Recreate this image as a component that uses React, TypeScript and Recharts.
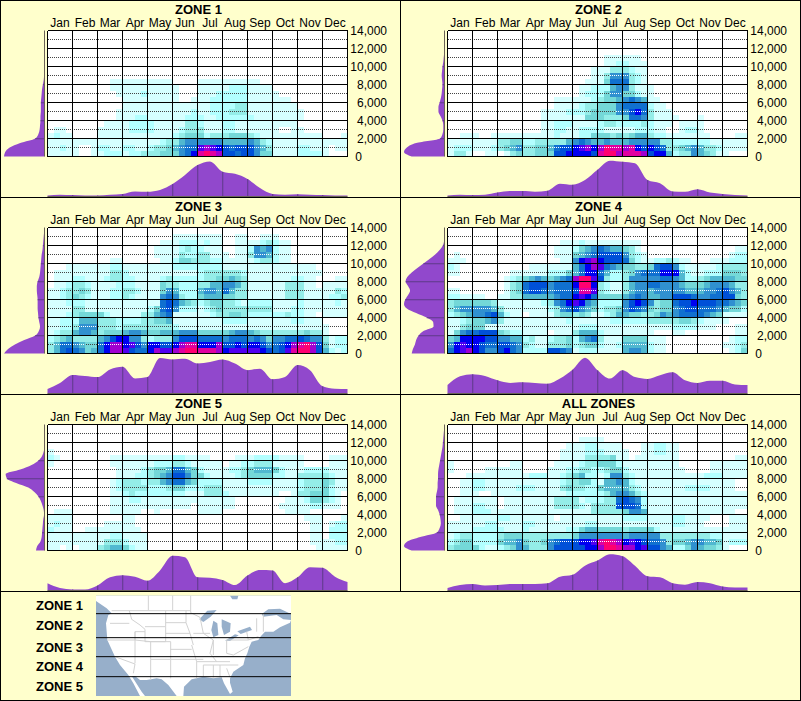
import { ScatterChart, Scatter, ComposedChart, Area, Bar, XAxis, YAxis, ReferenceLine } from "recharts";

const MONTHS = ["Jan", "Feb", "Mar", "Apr", "May", "Jun", "Jul", "Aug", "Sep", "Oct", "Nov", "Dec"];
const ALTITUDE_TICKS = [0, 2000, 4000, 6000, 8000, 10000, 12000, 14000];
const DOTTED_TICKS = [1000, 3000, 5000, 7000, 9000, 11000, 13000];
const MONTH_LINES = [0, 1, 2, 3, 4, 5, 6, 7, 8, 9, 10, 11, 12];
const MONTH_CENTRES = [0.5, 1.5, 2.5, 3.5, 4.5, 5.5, 6.5, 7.5, 8.5, 9.5, 10.5, 11.5];

// hex digit = heat level, rows run top (14,000) to bottom (0), 4 cells per month
const LEVEL_COLORS = ["#FFFFFF", "#D6FFFF", "#B2FFFF", "#94EDE8", "#74D8D8", "#50B8D0", "#3090D0", "#1070D0", "#0050D8", "#0000F0", "#5000F0", "#A000D0", "#E000A0", "#FF0070"];

const EMPTY = "0000 0000 0000 0000 0000 0000 0000 0000 0000 0000 0000 0000";

const ZONE_1_GRID = [
  EMPTY, EMPTY, EMPTY, EMPTY, EMPTY, EMPTY, EMPTY, EMPTY,
  "0000 0000 0011 1111 1111 0000 1111 1111 1100 0000 0000 0000",
  "0000 0000 0011 1111 1111 1000 1111 1222 1111 0000 0000 0000",
  "0000 0000 0001 1112 1111 1000 1112 2222 1111 1000 0000 0000",
  "0000 0000 0000 1111 1111 1001 1122 2222 1111 1110 0000 0000",
  "0000 0000 0000 1111 1111 1111 1122 2233 1111 1111 0000 0000",
  "0000 0000 0001 1111 1111 1112 1122 2333 1111 1111 1000 0000",
  "0000 0000 0001 1122 1111 1122 2112 2222 2111 1111 1000 0000",
  "0000 0000 0111 1222 2111 1133 2111 2211 1111 1111 0000 0000",
  "0110 0000 1111 1222 2111 1233 3111 2211 1111 1001 1000 0000",
  "1211 0000 1111 1111 1111 2344 4233 3444 3211 1111 1111 0001",
  "1111 1111 1111 1111 1123 3566 6666 5555 6532 1111 1111 1111",
  "1121 1001 2211 2211 2334 5677 aba9 8788 8653 1111 2211 1011",
  "1111 1001 1222 1223 3344 4679 cdcb 8878 8644 1111 2222 1000",
];

const ZONE_2_GRID = [
  EMPTY, EMPTY, EMPTY, EMPTY,
  "0000 0000 0000 0000 0000 0000 0111 1110 0000 0000 0000 0000",
  "0000 0000 0000 0000 0000 0000 0112 2111 0000 0000 0000 0000",
  "0000 0000 0000 0000 0000 0001 1133 3211 0000 0000 0000 0000",
  "0000 0000 0000 0000 0000 0001 1366 6321 0000 0000 0000 0000",
  "0000 0000 0000 0000 0000 0011 1477 7321 0000 0000 0000 0000",
  "0000 0000 0000 0000 0000 0112 2256 6311 1000 0000 0000 0000",
  "0000 0000 0000 0000 0000 0122 2466 4421 1000 0000 0000 0000",
  "0000 0000 0000 0000 0111 1112 3445 6765 1100 0000 0000 0000",
  "0000 0000 0000 0000 0111 1233 4446 7777 2110 0000 0000 0000",
  "0000 0000 0000 0001 1112 2234 4446 6897 3111 0000 0000 0000",
  "0000 0000 0000 0001 1111 1144 4333 4776 3111 1000 1000 0000",
  "0000 0000 0000 0001 1222 1111 2332 2223 2111 0111 1000 0000",
  "0000 0000 0000 0001 1221 1222 2111 1122 2110 0122 1000 0000",
  "0011 1001 1111 1111 1211 1224 4434 3455 3221 1111 1100 0011",
  "1111 1111 3344 2233 3335 6765 5655 5666 6633 2222 2211 1111",
  "1222 1112 3456 3344 5788 9ab9 bdcc bc98 9873 3456 5332 1111",
  "1331 0011 0134 3344 4889 9998 cddb cccb 8995 2336 5431 1000",
];

const ZONE_3_GRID = [
  EMPTY,
  "0000 0000 0000 0000 0000 1111 1111 0011 0011 1000 0000 0000",
  "0000 0000 0000 0000 0011 1222 1211 0011 1123 2110 0000 0000",
  "0000 0000 0000 0000 0111 1232 2111 0011 2656 2110 0000 0000",
  "0000 0000 0000 0000 0111 1322 3311 1011 3665 2110 0000 0000",
  "0000 0000 0011 0000 0011 2443 3322 1111 1233 2110 0000 0000",
  "0001 1111 1122 1111 1111 2222 2222 1111 1111 1111 1110 0000",
  "0111 1111 1133 2111 1111 1111 2333 3332 1111 1111 1111 0000",
  "0111 2211 1233 2211 1123 2222 2334 4543 1111 1112 2110 0011",
  "0112 3321 1112 2211 1143 3222 3355 6653 1111 1133 3110 1111",
  "1123 3431 1122 3321 1146 5222 5665 7533 1111 1133 3111 1132",
  "1123 4321 1122 3211 1167 6322 4555 4433 1111 1133 3111 1223",
  "1112 2211 1111 1111 1178 7543 2344 3321 2222 1111 2111 1121",
  "1111 3311 1111 1111 2478 6222 1234 3333 3333 1112 2111 1111",
  "1112 3444 4211 1113 3567 1111 1123 3443 2222 2232 2110 1111",
  "1122 2555 3332 2223 3445 1111 1111 2222 1111 1112 2111 0000",
  "1122 3666 3332 3333 3333 2111 1111 1111 1111 1111 1111 1000",
  "1233 5665 3444 5665 4455 5666 4444 4566 5433 3333 3433 1000",
  "2345 3333 5689 9663 2333 6888 7777 6777 6764 6677 8766 3122",
  "3577 6544 79bb 9a86 9988 9bcc 999b 8898 9986 789b cdb8 4122",
  "3578 7645 79bb a877 9baa bcdd cccb 9aaa aa98 78ac ddb8 5212",
];

const ZONE_4_GRID = [
  EMPTY, EMPTY,
  "0000 0000 0000 0000 0011 1211 1111 1110 0000 0000 0000 0000",
  "0000 0000 0000 0000 0111 2456 7655 4310 0000 0000 0000 0011",
  "0100 0000 0000 0000 0111 4567 8888 6321 0000 0000 0000 0122",
  "1110 0000 0000 0000 0011 69ab 9888 7421 1223 2110 0011 1222",
  "2100 0000 0000 0111 1111 579b a765 4433 4788 6211 1112 3333",
  "1100 0000 0011 1111 2224 5799 7522 3467 7799 9521 1222 4443",
  "0000 0000 0123 4565 4567 bdda 8322 3666 6677 6522 3455 5544",
  "0000 0000 0134 7888 6777 9dd9 3211 3566 7766 6544 4566 6533",
  "1100 0000 0134 7887 6777 8cca 3211 3566 5666 6655 5667 8653",
  "2211 1100 1133 5555 5677 9a97 4444 5676 5566 8887 6677 8843",
  "3444 4443 1111 1112 3679 a965 2222 6898 6344 7889 8887 7654",
  "3566 6665 3111 1111 2367 8654 2334 6876 4344 6788 7776 5442",
  "2345 6678 5211 0111 1344 3431 1235 5443 3465 6777 7654 1111",
  "1123 4456 3111 1111 1112 1111 1122 2222 3333 3443 2111 1000",
  "1134 4411 1111 1111 1111 1222 1111 1111 1111 2222 1110 0011",
  "1467 7888 4322 1111 0111 3555 2111 1111 1000 1100 0000 0011",
  "4599 9988 6655 2311 2334 2567 3111 4444 1110 0000 0000 0122",
  "69a9 9877 8876 3211 3334 2344 2112 5555 2110 0000 0000 1123",
  "79ab 9866 8976 2222 8876 1222 1111 5665 2110 0000 0000 0124",
];

const ZONE_5_GRID = [
  EMPTY, EMPTY, EMPTY, EMPTY,
  "1000 0000 0000 0000 0000 0000 0000 0000 0000 0000 0000 0000",
  "2100 0000 0011 1111 1111 2211 1100 0011 1222 2111 1000 0111",
  "1000 0000 0011 1111 1222 3321 1111 0112 2333 1111 1000 0111",
  "0000 0000 0001 1112 3445 7754 2111 1223 4555 4211 1222 2111",
  "0000 0000 0001 1122 3456 8864 4211 1123 4444 2211 3333 3211",
  "0000 0000 0012 3332 3356 7754 2222 1111 2222 1111 2333 4311",
  "0000 0000 0012 3333 2223 4422 2333 1111 1111 1111 2333 4211",
  "0000 0000 0011 2322 2222 2211 1333 2111 1111 1001 3344 4210",
  "0000 0000 0011 1221 1111 1111 1111 1100 0000 0011 1244 3210",
  "0000 0000 0011 1111 1111 1110 1111 1100 0000 0111 1122 1110",
  "0111 0000 0011 1110 0100 0000 1111 0000 0000 0011 1100 0000",
  "1111 0000 0000 1100 0000 0000 0000 0000 0000 0000 0111 0001",
  "1211 0000 0111 1100 0000 0000 0000 0000 0000 0000 0011 0122",
  "2111 0011 1111 1110 0000 0000 0000 0000 0000 0000 0011 0222",
  "1111 1111 1122 1111 0000 0000 0000 0000 0000 0000 0011 0222",
  "1111 1111 1333 2111 0000 0000 0000 0000 0000 0000 0011 1122",
  "1101 0111 3455 4211 0000 0000 0000 0000 0000 0000 0001 1111",
];

const ALL_ZONES_GRID = [
  EMPTY, EMPTY,
  "0000 0000 0000 0000 0000 0111 1000 0000 0000 0000 0000 0000",
  "0000 0000 0000 0000 0001 1122 1111 0001 1221 1000 0000 0000",
  "0000 0000 0000 0000 0011 1122 2111 1001 1221 1000 0000 0000",
  "0000 0000 0000 0000 0011 1133 3341 1011 1111 1000 0000 0011",
  "1000 0000 0011 0000 0111 1233 4442 1111 1111 1000 0011 1111",
  "1000 0011 1111 0000 1112 2332 2344 2111 1111 1100 0011 1111",
  "0001 1111 1111 1222 1123 4522 1266 3211 1111 1111 1222 1111",
  "0011 2211 1111 1111 1123 3442 1556 5211 1111 1111 1111 1100",
  "0011 2211 1112 2211 1134 3322 4555 5321 1111 1122 2211 1100",
  "0011 1001 1111 1111 1112 2222 2356 6532 1111 1111 1111 1111",
  "0111 1111 0111 1111 1333 3122 2337 8762 1111 1111 1111 1111",
  "0111 2211 0111 1111 1333 3213 3338 8872 1111 1111 1111 1111",
  "0111 2221 1111 1111 1111 1113 3333 4665 1111 1111 1111 1100",
  "0011 1111 2211 1111 1011 1111 1111 2222 1111 2211 1100 0111",
  "1111 1122 1111 2211 1111 1122 1111 1111 1111 2211 1000 0111",
  "1111 2222 2111 2111 1112 2455 4444 3444 4211 1111 1111 1111",
  "1233 2222 3444 3333 3333 4666 6666 5666 6633 3333 3322 1111",
  "2344 2222 4556 4334 6788 899a cdcb 9a98 7763 4456 6554 1222",
  "3444 4211 2346 5333 6888 8899 bddc bb9a 8865 2246 5443 1000",
];

// relative density by half month, Jan 1 to Dec 31
const ZONE_1_MONTHLY = [3, 5, 4, 3, 3, 5, 7, 14, 13, 18, 34, 59, 86, 96, 68, 62, 48, 23, 7, 5, 6, 5, 4, 3, 3];
const ZONE_2_MONTHLY = [3, 5, 4, 5, 11, 15, 15, 13, 16, 35, 32, 45, 73, 98, 95, 91, 45, 36, 14, 13, 20, 11, 7, 4, 3];
const ZONE_3_MONTHLY = [12, 29, 51, 48, 45, 66, 73, 41, 45, 97, 93, 95, 82, 86, 93, 82, 64, 68, 39, 45, 78, 64, 20, 13, 12];
const ZONE_4_MONTHLY = [23, 47, 53, 48, 36, 29, 31, 29, 27, 41, 65, 98, 64, 41, 64, 45, 40, 50, 58, 36, 29, 35, 35, 25, 23];
const ZONE_5_MONTHLY = [20, 7, 3, 3, 14, 36, 42, 38, 27, 55, 95, 91, 36, 35, 29, 15, 41, 56, 55, 20, 36, 64, 62, 38, 23];
const ALL_ZONES_MONTHLY = [7, 15, 18, 14, 15, 18, 18, 18, 20, 38, 43, 68, 82, 99, 94, 68, 39, 36, 20, 16, 23, 20, 11, 8, 8];

// relative density every 500 ft, 0 to 14,000
const ZONE_1_ALTITUDE = [100, 97, 86, 60, 23, 15, 12, 11, 10, 10, 9, 9, 9, 8, 7, 6, 4, 2, 1, 0, 0, 0, 0, 0, 0, 0, 0, 0, 0];
const ZONE_2_ALTITUDE = [81, 100, 93, 70, 11, 5, 3, 3, 5, 10, 15, 15, 12, 9, 7, 6, 5, 6, 7, 6, 5, 3, 2, 1, 1, 0, 0, 0, 0];
const ZONE_3_ALTITUDE = [100, 90, 73, 50, 23, 14, 11, 13, 15, 16, 17, 17, 17, 18, 19, 19, 17, 13, 11, 10, 9, 8, 7, 5, 4, 3, 2, 1, 0];
const ZONE_4_ALTITUDE = [81, 78, 73, 70, 64, 52, 27, 28, 44, 70, 93, 100, 97, 90, 85, 90, 96, 92, 81, 67, 52, 37, 23, 12, 4, 1, 0, 0, 0];
const ZONE_5_ALTITUDE = [21, 18, 10, 7, 6, 5, 4, 3, 1, 2, 5, 9, 15, 25, 40, 70, 93, 96, 60, 32, 15, 6, 2, 0, 0, 0, 0, 0, 0];
const ALL_ZONES_ALTITUDE = [81, 100, 92, 60, 19, 12, 9, 10, 12, 16, 21, 21, 21, 19, 17, 17, 16, 16, 15, 13, 11, 9, 7, 5, 4, 3, 2, 1, 0];

const ZONE_TITLES = ["ZONE 1", "ZONE 2", "ZONE 3", "ZONE 4", "ZONE 5", "ALL ZONES"];
const ZONE_GRIDS = [ZONE_1_GRID, ZONE_2_GRID, ZONE_3_GRID, ZONE_4_GRID, ZONE_5_GRID, ALL_ZONES_GRID];
const ZONE_MONTHLY = [ZONE_1_MONTHLY, ZONE_2_MONTHLY, ZONE_3_MONTHLY, ZONE_4_MONTHLY, ZONE_5_MONTHLY, ALL_ZONES_MONTHLY];
const ZONE_ALTITUDE = [ZONE_1_ALTITUDE, ZONE_2_ALTITUDE, ZONE_3_ALTITUDE, ZONE_4_ALTITUDE, ZONE_5_ALTITUDE, ALL_ZONES_ALTITUDE];

const MAP_ZONES = ["ZONE 1", "ZONE 2", "ZONE 3", "ZONE 4", "ZONE 5"];
const MAP_ZONE_BASELINES = [60, 120, 185, 243, 303];
const MAP_ZONE_LINES = [71, 143, 200, 260];

const BG = "#FFFFCC";
const PURPLE = "#9148CC";
const PURPLE_DARK = "#5E3A88";
const BASE_LINE = "#6B6258";
const FONT = "'Liberation Sans', Arial, sans-serif";

const CELL_W = 6.25;
const CELL_H = 6;
const PLOT_MARGIN = { top: 30.5, right: 52.5, bottom: 40.5, left: 47.5 };
const LAYER: React.CSSProperties = { position: "absolute", left: 0, top: 0 };

function gridCells(rows: string[]) {
  const out: { x: number; y: number; level: number; row: number }[] = [];
  rows.forEach((line, r) => {
    line.replace(/ /g, "").split("").forEach((ch, c) => {
      const level = parseInt(ch, 16);
      if (level > 0) out.push({ x: (c + 0.5) / 4, y: 14000 - ((r + 0.5) * 14000) / 21, level, row: r });
    });
  });
  return out;
}

function HeatCell({ cx, cy, payload }: any) {
  return (
    <rect x={cx - CELL_W / 2} y={cy - CELL_H / 2} width={CELL_W} height={CELL_H} fill={LEVEL_COLORS[payload.level]} shapeRendering="crispEdges" />
  );
}

// dark cells take the dotted line in white
function DottedCell({ cx, cy, payload }: any) {
  return (
    <g shapeRendering="crispEdges">
      <rect x={cx - CELL_W / 2} y={cy - CELL_H / 2} width={CELL_W} height={CELL_H} fill={LEVEL_COLORS[payload.level]} />
      <line x1={cx - CELL_W / 2} x2={cx + CELL_W / 2} y1={cy} y2={cy} stroke="#FFFFFF" strokeDasharray="1 1" />
    </g>
  );
}

function MonthTick({ x, payload }: any) {
  return (
    <text x={x} y={27} textAnchor="middle" fontFamily={FONT} fontSize={12} fill="#000">
      {MONTHS[Math.floor(payload.value)]}
    </text>
  );
}

function AltitudeTick({ y, payload }: any) {
  return (
    <text x={payload.value === 0 ? 362 : 387} y={y + 4.5} textAnchor="end" fontFamily={FONT} fontSize={12} fill="#000">
      {payload.value.toLocaleString("en-US")}
    </text>
  );
}

function Panel({ index }: { index: number }) {
  const cells = gridCells(ZONE_GRIDS[index]);
  const darkDotted = cells.filter((d) => d.row % 3 === 1 && d.level >= 5);
  const monthly = ZONE_MONTHLY[index].map((v, i) => ({
    x: i / 2,
    v,
    mark: i % 2 === 0 && i > 0 && i < 24 ? v : null,
  }));
  const altitude = ZONE_ALTITUDE[index].map((v, i) => ({
    y: i * 500,
    v,
    mark: i % 4 === 0 && i > 0 && i < 28 ? v : null,
  }));
  const left = (index % 2) * 400;
  const top = Math.floor(index / 2) * 197;

  return (
    <div style={{ position: "absolute", left, top, width: 400, height: 197 }}>
      <div style={{ position: "absolute", left: 4, top: 30 }}>
        <ComposedChart layout="vertical" width={41} height={127} data={altitude} margin={{ top: 0.5, right: 0.5, bottom: 0.5, left: 0 }}>
          <XAxis type="number" domain={[0, 100]} reversed hide />
          <YAxis type="number" dataKey="y" domain={[0, 14000]} reversed hide />
          <Area dataKey="v" type="monotone" fill={PURPLE} fillOpacity={1} stroke="none" isAnimationActive={false} />
          <Bar dataKey="mark" barSize={1} fill={PURPLE_DARK} isAnimationActive={false} />
          <ReferenceLine x={0} stroke={BASE_LINE} />
        </ComposedChart>
      </div>
      <div style={{ position: "absolute", left: 47, top: 160 }}>
        <ComposedChart width={301} height={37} data={monthly} margin={{ top: 0, right: 0.5, bottom: 0.5, left: 0.5 }}>
          <XAxis type="number" dataKey="x" domain={[0, 12]} hide />
          <YAxis type="number" domain={[0, 100]} hide />
          <Area dataKey="v" type="monotone" fill={PURPLE} fillOpacity={1} stroke="none" isAnimationActive={false} />
          <Bar dataKey="mark" barSize={1} fill={PURPLE_DARK} isAnimationActive={false} />
          <ReferenceLine y={0} stroke={BASE_LINE} />
        </ComposedChart>
      </div>
      <div style={{ position: "absolute", left: 47.5, top: 30.5, width: 300, height: 126, background: "#FFFFFF" }} />
      <div style={LAYER}>
        <ScatterChart width={400} height={197} margin={{ ...PLOT_MARGIN, top: 10.5, right: 2.5 }}>
          <XAxis
            type="number"
            dataKey="x"
            orientation="top"
            domain={[0, 12]}
            ticks={MONTH_CENTRES}
            interval={0}
            height={20}
            axisLine={false}
            tickLine={false}
            tick={<MonthTick />}
          />
          <YAxis
            type="number"
            dataKey="y"
            orientation="right"
            domain={[0, 14000]}
            ticks={ALTITUDE_TICKS}
            interval={0}
            width={50}
            axisLine={false}
            tickLine={false}
            tick={<AltitudeTick />}
          />
          <Scatter data={cells} shape={<HeatCell />} isAnimationActive={false} />
        </ScatterChart>
      </div>
      {/* dotted lines and the grid have to sit over the cells, so they get their own layer */}
      <div style={LAYER}>
        <ScatterChart width={400} height={197} margin={PLOT_MARGIN}>
          <XAxis type="number" dataKey="x" domain={[0, 12]} hide />
          <YAxis type="number" dataKey="y" domain={[0, 14000]} hide />
          {DOTTED_TICKS.map((t) => (
            <ReferenceLine key={t} y={t} stroke="#444" strokeDasharray="1 1" shapeRendering="crispEdges" />
          ))}
          <Scatter data={darkDotted} shape={<DottedCell />} isAnimationActive={false} />
        </ScatterChart>
      </div>
      <div style={LAYER}>
        <ScatterChart width={400} height={197} margin={PLOT_MARGIN}>
          <XAxis type="number" dataKey="x" domain={[0, 12]} hide />
          <YAxis type="number" dataKey="y" domain={[0, 14000]} hide />
          {ALTITUDE_TICKS.map((t) => (
            <ReferenceLine key={t} y={t} stroke="#000" shapeRendering="crispEdges" ifOverflow="visible" />
          ))}
          {MONTH_LINES.map((m) => (
            <ReferenceLine key={m} x={m} stroke="#000" shapeRendering="crispEdges" ifOverflow="visible" />
          ))}
          <Scatter data={cells.slice(0, 1)} shape={() => <g />} isAnimationActive={false} />
        </ScatterChart>
      </div>
      <svg width={400} height={40} style={{ position: "absolute", left: 0, top: 0 }}>
        <text x={198.5} y={14} textAnchor="middle" fontFamily={FONT} fontSize={13} fontWeight="bold" fill="#000">
          {ZONE_TITLES[index]}
        </text>
      </svg>
    </div>
  );
}

function ZoneMap() {
  return (
    <svg width={300} height={110} viewBox="0 0 900 330" style={{ position: "absolute", left: 0, top: 590 }}>
      <rect x={288} y={17} width={585} height={301} fill="#97AFCA" />
      <path
        d="M288 17L690 17L697 28L712 28L715 17L873 17L873 72L840 56L805 58L785 72L790 80L830 75L850 88L873 90L870 98L840 112L820 125L795 125L783 138L775 150L755 155L748 170L742 190L735 205L730 225L700 245L690 265L690 278L698 305L690 312L672 280L665 262L640 265L610 260L575 268L552 290L550 318L530 318L505 285L485 268L470 265L440 270L420 270L405 258L395 258L425 305L435 318L420 318L400 280L385 255L360 225L345 200L322 150L318 100L325 75L335 70L320 55L288 33Z"
        fill="#FFFFFF"
      />
      <g fill="#97AFCA">
        <path d="M598 88L622 62L650 60L632 80L610 96Z" />
        <path d="M640 92L652 100L655 135L640 142L634 120Z" />
        <path d="M665 88L692 100L690 125L672 135L665 110Z" />
        <path d="M675 152L705 133L716 136L690 153Z" />
        <path d="M712 124L750 110L756 120L722 132Z" />
      </g>
      <g fill="none" stroke="#D2D2D2" strokeWidth={3}>
        <path d="M445 17V60M518 17V60M572 17V68L600 82" />
        <path d="M335 62H572" />
        <path d="M388 62L395 88L420 105L435 118V155M435 110H497V155H435" />
        <path d="M497 62V110M497 98H558M497 130H570M558 62V98L570 130L580 165" />
        <path d="M330 100H388M322 150H405V125H435M405 125V220M405 150L452 155" />
        <path d="M452 155H512V208H452V155M452 208V270M512 178H575M512 208H610M512 208V265" />
        <path d="M345 200L405 222M405 222L400 250" />
        <path d="M575 165L590 215V265M580 130H630M600 82L610 130L640 150L630 190L650 215" />
        <path d="M640 150V195M680 150V190M590 215H690M640 200H735M610 225H715M610 225V258M640 225V262M660 225V262M680 235L690 262" />
        <path d="M680 150H745L740 125M745 150L775 140M745 170L700 195L680 190M770 85V125M790 70V125" />
      </g>
      {MAP_ZONE_LINES.map((y) => (
        <line key={y} x1={288} x2={873} y1={y} y2={y} stroke="#000" strokeWidth={3} />
      ))}
      {MAP_ZONES.map((z, i) => (
        <text key={z} x={108} y={MAP_ZONE_BASELINES[i]} fontFamily={FONT} fontSize={39} fontWeight="bold" fill="#000">
          {z}
        </text>
      ))}
    </svg>
  );
}

export default function App() {
  return (
    <div style={{ position: "absolute", left: 0, top: 0, width: 801, height: 701, background: BG, overflow: "hidden" }}>
      {ZONE_TITLES.map((t, i) => (
        <Panel key={t} index={i} />
      ))}
      <ZoneMap />
      <svg width={801} height={701} style={{ position: "absolute", left: 0, top: 0, pointerEvents: "none" }} shapeRendering="crispEdges">
        <rect x={0.5} y={0.5} width={800} height={700} fill="none" stroke="#000" />
        <line x1={400.5} x2={400.5} y1={0} y2={591} stroke="#000" />
        <line x1={0} x2={801} y1={197.5} y2={197.5} stroke="#000" />
        <line x1={0} x2={801} y1={394.5} y2={394.5} stroke="#000" />
        <line x1={0} x2={801} y1={591.5} y2={591.5} stroke="#000" />
      </svg>
    </div>
  );
}
